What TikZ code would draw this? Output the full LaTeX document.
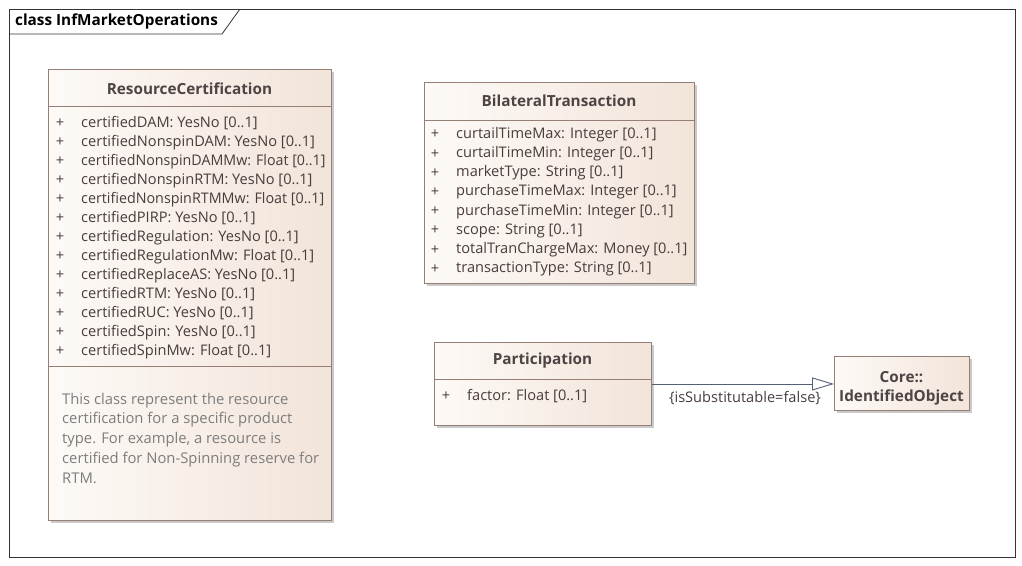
\documentclass[tikz,border=0pt]{standalone}
\usepackage{fontspec}
\setmainfont{Open Sans}
\usetikzlibrary{shadows,arrows.meta}
\definecolor{boxborder}{RGB}{150,128,118}
\definecolor{fillL}{RGB}{253,250,247}
\definecolor{fillR}{RGB}{242,228,217}
\definecolor{titlecol}{RGB}{78,68,68}
\definecolor{attrcol}{RGB}{72,60,60}
\definecolor{notecol}{RGB}{125,125,125}
\definecolor{linecol}{RGB}{85,95,115}
\tikzset{
  classbox/.style={draw=boxborder, line width=0.9pt, left color=fillL, right color=fillR,
    rectangle, anchor=north west, inner sep=0pt,
    drop shadow={shadow xshift=3pt, shadow yshift=-3pt, opacity=0.35, fill=black!60}},
  divider/.style={draw=boxborder, line width=0.9pt},
  ctitle/.style={font=\fontsize{15.3}{17}\selectfont\bfseries, text=titlecol, inner sep=0pt},
  attr/.style={font=\fontsize{14.6}{17}\selectfont, text=attrcol, anchor=west, inner sep=0pt, yshift=-2.5pt},
  plus/.style={font=\fontsize{14.6}{17}\selectfont, text=attrcol, inner sep=0pt, yshift=-2.5pt},
  note/.style={font=\fontsize{14.8}{17}\selectfont, text=notecol, anchor=west, inner sep=0pt, yshift=-2.5pt},
}
\begin{document}
\begin{tikzpicture}[x=1pt,y=-1pt]
\useasboundingbox (0,0) rectangle (1022,565);
% frame
\draw[black!80, line width=0.8pt] (9,9) rectangle (1015,557);
\draw[black!80, line width=0.8pt] (9,34) -- (222,34) -- (240,9);
\node[font=\fontsize{15.3}{17}\selectfont\bfseries, anchor=west, inner sep=0pt] (title) at (15,21) {class InfMarketOperations};

% ResourceCertification
\node[classbox, minimum width=283pt, minimum height=451pt] (rc) at (48,69) {};
\node[ctitle] (rct) at (189.5,89) {ResourceCertification};
\draw[divider] (48,106) -- (331,106);
\draw[divider] (48,366) -- (331,366);
\foreach [count=\i] \t/\s in {certifiedDAM: YesNo [0..1]/1, certifiedNonspinDAM: YesNo [0..1]/1, certifiedNonspinDAMMw: Float [0..1]/0.975, certifiedNonspinRTM: YesNo [0..1]/1, certifiedNonspinRTMMw: Float [0..1]/0.98, certifiedPIRP: YesNo [0..1]/1, certifiedRegulation: YesNo [0..1]/1, certifiedRegulationMw: Float [0..1]/1, certifiedReplaceAS: YesNo [0..1]/1, certifiedRTM: YesNo [0..1]/1, certifiedRUC: YesNo [0..1]/1, certifiedSpin: YesNo [0..1]/1, certifiedSpinMw: Float [0..1]/1} {
  \node[plus] (rcp\i) at (60,{121+19*(\i-1)}) {+};
  \node[attr] (rca\i) at (81,{121+19*(\i-1)}) {\scalebox{\s}[1]{\t}};
}
\node[note] (rcn1) at (62,398) {This class represent the resource};
\node[note] (rcn2) at (62,417) {certification for a specific product};
\node[note] (rcn3) at (62,437) {type. For example, a resource is};
\node[note] (rcn4) at (62,457) {certified for Non-Spinning reserve for};
\node[note] (rcn5) at (62,476) {RTM.};

% BilateralTransaction
\node[classbox, minimum width=270pt, minimum height=201pt] (bt) at (424,82) {};
\node[ctitle] (btt) at (559,101) {BilateralTransaction};
\draw[divider] (424,120) -- (694,120);
\foreach [count=\i] \t in {curtailTimeMax: Integer [0..1], curtailTimeMin: Integer [0..1], marketType: String [0..1], purchaseTimeMax: Integer [0..1], purchaseTimeMin: Integer [0..1], scope: String [0..1], totalTranChargeMax: Money [0..1], transactionType: String [0..1]} {
  \node[plus] (btp\i) at (435,{132+19.2*(\i-1)}) {+};
  \node[attr] (bta\i) at (456,{132+19.2*(\i-1)}) {\t};
}

% Participation
\node[classbox, minimum width=217pt, minimum height=83pt] (part) at (434,342) {};
\node[ctitle] (partt) at (542.5,361) {Participation};
\draw[divider] (434,379) -- (651,379);
\node[plus] (partp1) at (446,394) {+};
\node[attr] (parta1) at (467,394) {factor: Float [0..1]};

% Core::IdentifiedObject
\node[classbox, minimum width=135pt, minimum height=54pt] (core) at (834,356) {};
\node[ctitle] (coret1) at (901.5,377) {Core::};
\node[ctitle] (coret2) at (901.5,397) {IdentifiedObject};

% generalization
\draw[linecol, line width=0.9pt, -{Triangle[open, length=22pt, width=13pt, fill=white]}] (part.east) -- (part.east -| core.west);
\node[font=\fontsize{14.6}{17}\selectfont, text=attrcol, inner sep=0pt, yshift=-1.5pt] (gl) at (745,397) {\{isSubstitutable=false\}};
\end{tikzpicture}
\end{document}
